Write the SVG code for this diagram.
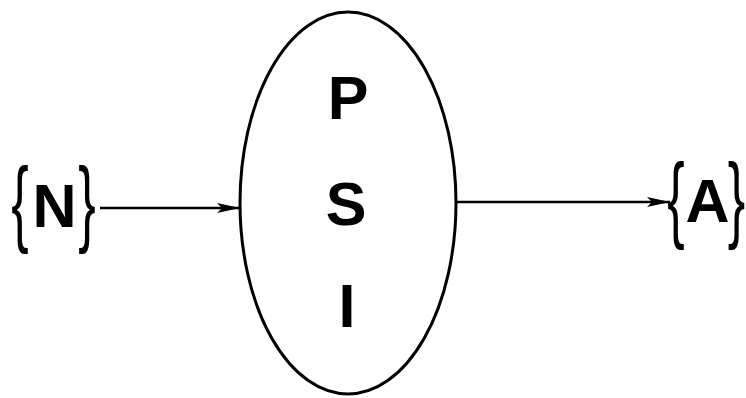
<svg xmlns="http://www.w3.org/2000/svg" width="746" height="398" viewBox="0 0 746 398">
<style>
.lt{font-family:"Liberation Sans",Arial,sans-serif;font-weight:bold;font-size:61px;fill:#000;text-anchor:middle}
.br{font-family:"Liberation Sans",Arial,sans-serif;font-size:95px;fill:#000;text-anchor:middle}
.cn{stroke:#000;stroke-width:2.5;fill:none}
</style>
<defs>
<marker id="ah" markerUnits="userSpaceOnUse" markerWidth="24" markerHeight="12" refX="23" refY="6" orient="auto">
<path d="M0,1 L23,6 L0,11 L5,6 Z" fill="#000"/>
</marker>
</defs>
<rect width="746" height="398" fill="#fff"/>
<g id="N">
<text class="br" transform="translate(20,234) scale(0.55,1)">{</text>
<text class="lt" x="54.5" y="227">N</text>
<text class="br" transform="translate(87,234) scale(0.55,1)">}</text>
</g>
<g id="PSI">
<ellipse cx="348" cy="203" rx="108" ry="191" fill="none" stroke="#000" stroke-width="3"/>
<text class="lt" x="348" y="119">P</text>
<text class="lt" x="346" y="225">S</text>
<text class="lt" x="347" y="327">I</text>
</g>
<g id="A">
<text class="br" transform="translate(676,230) scale(0.55,1)">{</text>
<text class="lt" x="707.5" y="222">A</text>
<text class="br" transform="translate(736.5,230) scale(0.55,1)">}</text>
</g>
<g id="connectors">
<line class="cn" x1="100" y1="208" x2="240" y2="208" marker-end="url(#ah)"/>
<line class="cn" x1="457" y1="202" x2="670" y2="202" marker-end="url(#ah)"/>
</g>
</svg>
